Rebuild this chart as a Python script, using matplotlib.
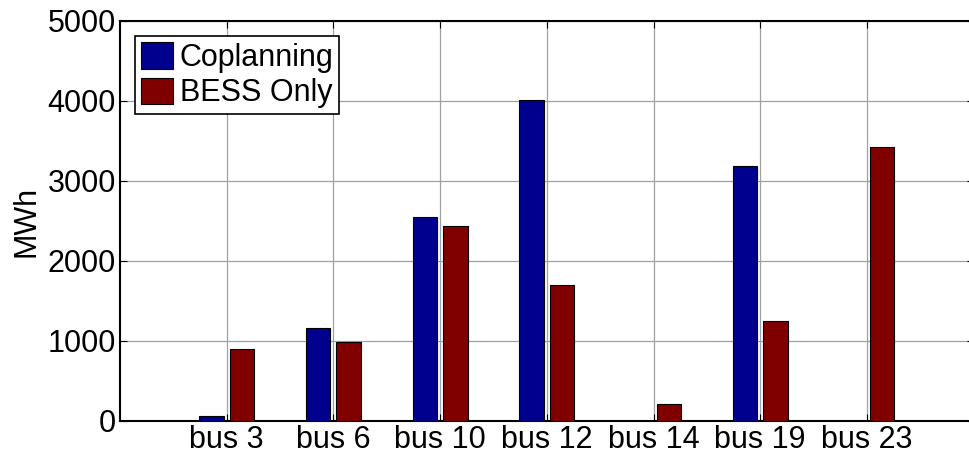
import numpy as np
import matplotlib.pyplot as plt

plt.rcParams['font.family'] = ['Liberation Sans', 'DejaVu Sans']

buses = ['bus 3', 'bus 6', 'bus 10', 'bus 12', 'bus 14', 'bus 19', 'bus 23']
coplanning = [60, 1160, 2545, 4010, 0, 3185, 0]
bess_only = [900, 985, 2440, 1700, 215, 1245, 3430]

x = np.arange(1, len(buses) + 1)
w = 0.229
off = 0.143

fig = plt.figure(figsize=(9.69, 4.61), dpi=100)
ax = fig.add_axes([0.1238, 0.0868, 0.881, 0.8677])

ax.bar(x - off, coplanning, w, color='#00008F', edgecolor='black', linewidth=0.8,
       label='Coplanning', zorder=3)
ax.bar(x + off, bess_only, w, color='#800000', edgecolor='black', linewidth=0.8,
       label='BESS Only', zorder=3)

ax.set_xlim(0, 8)
ax.set_ylim(0, 5000)
ax.set_xticks(x)
ax.set_xticklabels(buses)
ax.set_yticks(range(0, 5001, 1000))
ax.set_ylabel('MWh', fontsize=22, labelpad=4)
ax.tick_params(axis='both', labelsize=22, direction='in', length=5,
               top=True, right=True, pad=3)
ax.grid(True, color='#a0a0a0', linewidth=0.9, zorder=0)
for s in ax.spines.values():
    s.set_linewidth(1.5)

leg = ax.legend(loc='upper left', fontsize=22, fancybox=False, edgecolor='black',
                framealpha=1, borderpad=0.2, handlelength=1.05, handleheight=0.95,
                handletextpad=0.2, labelspacing=0.15, borderaxespad=0.5)
leg.get_frame().set_linewidth(1.2)

fig.savefig('out.png', dpi=100)
